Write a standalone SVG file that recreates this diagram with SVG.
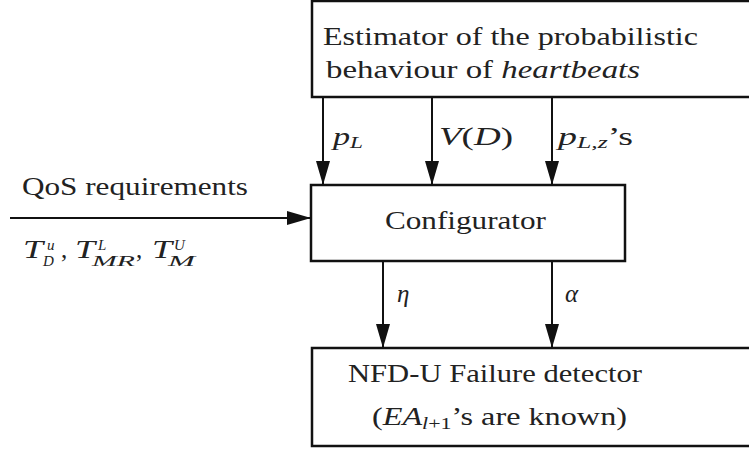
<svg xmlns="http://www.w3.org/2000/svg" width="749" height="449" viewBox="0 0 749 449">
<style>
text{font-family:'Liberation Serif','DejaVu Serif','Noto Serif','Times New Roman',Times,serif;font-size:25px;fill:#222}
.i{font-style:italic}
.s{font-size:17px}
.t{font-size:15px}
.box{fill:#fff;stroke:#111;stroke-width:2.5}
.ln{stroke:#111;stroke-width:2;fill:none;marker-end:url(#ah)}
</style>
<defs>
<marker id="ah" markerUnits="userSpaceOnUse" markerWidth="26" markerHeight="14" refX="24" refY="7" orient="auto">
<path d="M0,0 L24,7 L0,14 Z" fill="#111"/>
</marker>
</defs>
<rect width="749" height="449" fill="#fff"/>
<g font-family="Liberation Serif, DejaVu Serif, serif">
<g id="estimator">
<rect class="box" x="312" y="1" width="450" height="96"/>
<text x="323" y="45" textLength="375" lengthAdjust="spacingAndGlyphs">Estimator of the probabilistic</text>
<text x="326" y="78" textLength="314" lengthAdjust="spacingAndGlyphs">behaviour of <tspan class="i">heartbeats</tspan></text>
</g>
<g id="configurator">
<rect class="box" x="311" y="185" width="314" height="76"/>
<text x="385" y="229" textLength="161" lengthAdjust="spacingAndGlyphs">Configurator</text>
</g>
<g id="detector">
<rect class="box" x="312" y="348" width="450" height="98"/>
<text x="348" y="382" textLength="294" lengthAdjust="spacingAndGlyphs">NFD-U Failure detector</text>
<text x="372" y="425" textLength="255" lengthAdjust="spacingAndGlyphs">(<tspan class="i">EA</tspan><tspan class="i s" dy="4">l</tspan><tspan class="s">+1</tspan><tspan dy="-4">’s are known)</tspan></text>
</g>
<g id="connectors">
<line class="ln" x1="323" y1="97" x2="323" y2="185"/>
<line class="ln" x1="432" y1="97" x2="432" y2="185"/>
<line class="ln" x1="552" y1="97" x2="552" y2="185"/>
<line class="ln" x1="383" y1="261" x2="383" y2="348"/>
<line class="ln" x1="552" y1="261" x2="552" y2="348"/>
<line class="ln" x1="10" y1="218" x2="311" y2="218"/>
</g>
<g id="labels">
<text x="333" y="145" textLength="30" lengthAdjust="spacingAndGlyphs"><tspan class="i">p</tspan><tspan class="i s" dy="3">L</tspan></text>
<text x="439" y="145" textLength="74" lengthAdjust="spacingAndGlyphs"><tspan class="i">V</tspan>(<tspan class="i">D</tspan>)</text>
<text x="558" y="145" textLength="75" lengthAdjust="spacingAndGlyphs"><tspan class="i">p</tspan><tspan class="i s" dy="3">L,z</tspan><tspan dy="-3">’s</tspan></text>
<text x="397" y="302" class="i">η</text>
<text x="565" y="302" class="i">α</text>
<text x="22" y="195" textLength="226" lengthAdjust="spacingAndGlyphs">QoS requirements</text>
<text x="23" y="258" class="i" textLength="20" lengthAdjust="spacingAndGlyphs">T</text>
<text x="47" y="250" class="i t">u</text>
<text x="43" y="266" class="i t">D</text>
<text x="61" y="258">,</text>
<text x="75" y="258" class="i" textLength="20" lengthAdjust="spacingAndGlyphs">T</text>
<text x="98" y="250" class="i t">L</text>
<text x="92" y="266" class="i t" textLength="43" lengthAdjust="spacingAndGlyphs">MR</text>
<text x="136" y="258">,</text>
<text x="152" y="258" class="i" textLength="20" lengthAdjust="spacingAndGlyphs">T</text>
<text x="174" y="250" class="i t">U</text>
<text x="168" y="266" class="i t" textLength="27" lengthAdjust="spacingAndGlyphs">M</text>
</g>
</g>
</svg>
